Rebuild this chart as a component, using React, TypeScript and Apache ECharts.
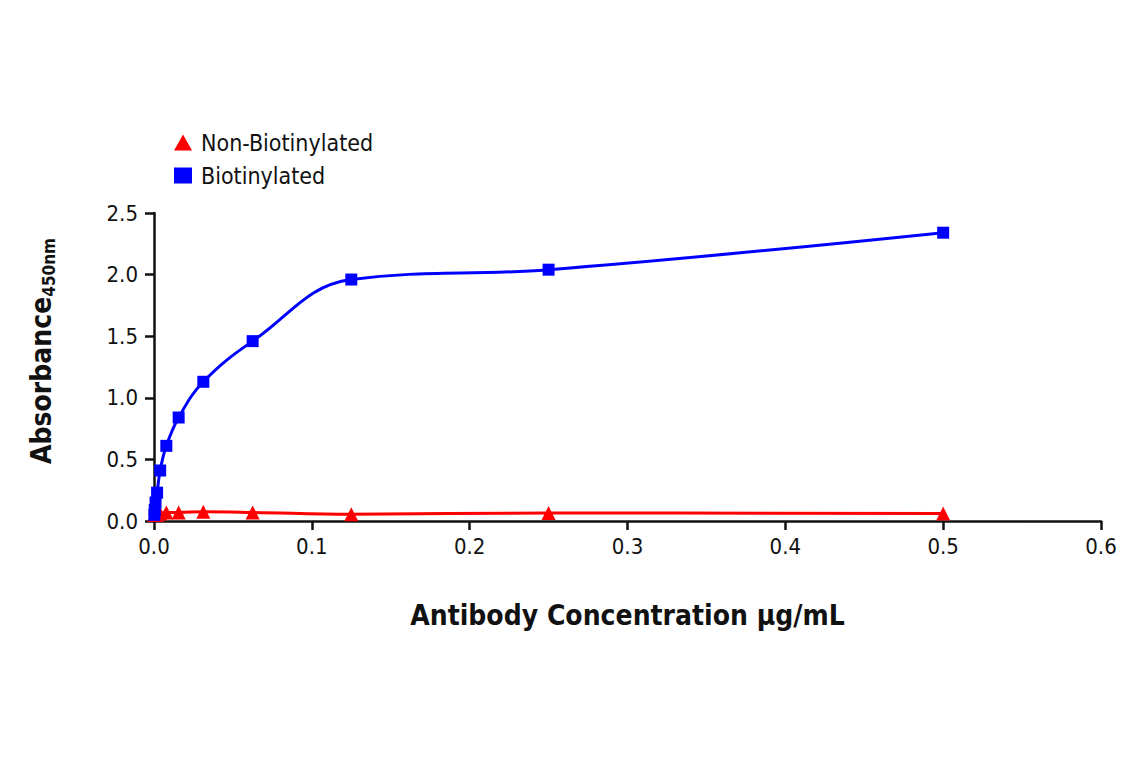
import { useEffect, useRef } from "react";
import * as echarts from "echarts";

// Antibody concentration (µg/mL), two-fold dilutions
const concentrations = [
  0.5, 0.25, 0.125, 0.0625, 0.03125, 0.015625, 0.0078125, 0.00390625,
  0.001953, 0.000977, 0.000488, 0.000244,
];
const biotinylated = [2.34, 2.04, 1.96, 1.46, 1.13, 0.84, 0.61, 0.41, 0.23, 0.15, 0.09, 0.05];
const nonBiotinylated = [0.06, 0.065, 0.055, 0.07, 0.075, 0.07, 0.07, 0.06, 0.05, 0.05, 0.05, 0.05];

const FONT = "'Liberation Sans Narrow', 'DejaVu Sans Condensed', 'Roboto', sans-serif";

const toPairs = (ys: number[]) =>
  concentrations.map((x, i) => [x, ys[i]]).sort((a, b) => a[0] - b[0]);

export default function App() {
  const chartRef = useRef<HTMLDivElement>(null);

  useEffect(() => {
    if (!chartRef.current) return;
    const chart = echarts.init(chartRef.current, undefined, { renderer: "svg" });

    chart.setOption({
      animation: false,
      backgroundColor: "#fff",
      textStyle: { fontFamily: FONT },
      legend: {
        orient: "vertical",
        left: 161,
        top: 118,
        itemGap: 10,
        itemWidth: 18,
        itemHeight: 16,
        textStyle: { fontSize: 23, color: "#111", fontFamily: FONT, padding: [0, 0, 0, 4] },
        data: [
          { name: "Non-Biotinylated", icon: "triangle" },
          { name: "Biotinylated", icon: "rect" },
        ],
      },
      grid: { left: 146, right: 32, top: 205, bottom: 239 },
      xAxis: {
        type: "value",
        min: 0,
        max: 0.6,
        interval: 0.1,
        name: "Antibody Concentration µg/mL",
        nameLocation: "middle",
        nameGap: 80,
        nameTextStyle: { fontSize: 28, fontWeight: "bold", color: "#111", fontFamily: FONT },
        axisLine: { lineStyle: { color: "#111", width: 2.5 } },
        axisTick: { length: 9, lineStyle: { color: "#111", width: 2.5 } },
        axisLabel: {
          fontSize: 22,
          color: "#111",
          margin: 14,
          formatter: (v: number) => v.toFixed(1),
        },
        splitLine: { show: false },
      },
      yAxis: {
        type: "value",
        min: 0,
        max: 2.5,
        interval: 0.5,
        name: "{main|Absorbance}{sub|450nm}",
        nameLocation: "middle",
        nameGap: 97,
        nameRotate: 90,
        nameTextStyle: {
          padding: [0, 0, 0, 32],
          rich: {
            main: { fontSize: 28, fontWeight: "bold", color: "#111", fontFamily: FONT },
            sub: {
              fontSize: 17,
              fontWeight: "bold",
              color: "#111",
              fontFamily: FONT,
              verticalAlign: "bottom",
              padding: [14, 0, 0, 0],
            },
          },
        },
        axisLine: { show: true, lineStyle: { color: "#111", width: 2.5 } },
        axisTick: { show: true, length: 9, lineStyle: { color: "#111", width: 2.5 } },
        axisLabel: {
          fontSize: 22,
          color: "#111",
          margin: 16,
          formatter: (v: number) => v.toFixed(1),
        },
        splitLine: { show: false },
      },
      series: [
        {
          name: "Non-Biotinylated",
          type: "line",
          data: toPairs(nonBiotinylated),
          smooth: 0.4,
          symbol: "triangle",
          symbolSize: 14,
          itemStyle: { color: "#ff0000" },
          lineStyle: { color: "#ff0000", width: 3 },
        },
        {
          name: "Biotinylated",
          type: "line",
          data: toPairs(biotinylated),
          smooth: 0.4,
          symbol: "rect",
          symbolSize: 12,
          itemStyle: { color: "#0000ff" },
          lineStyle: { color: "#0000ff", width: 3 },
        },
      ],
    });

    return () => chart.dispose();
  }, []);

  return <div ref={chartRef} style={{ width: 1125, height: 752 }} />;
}
